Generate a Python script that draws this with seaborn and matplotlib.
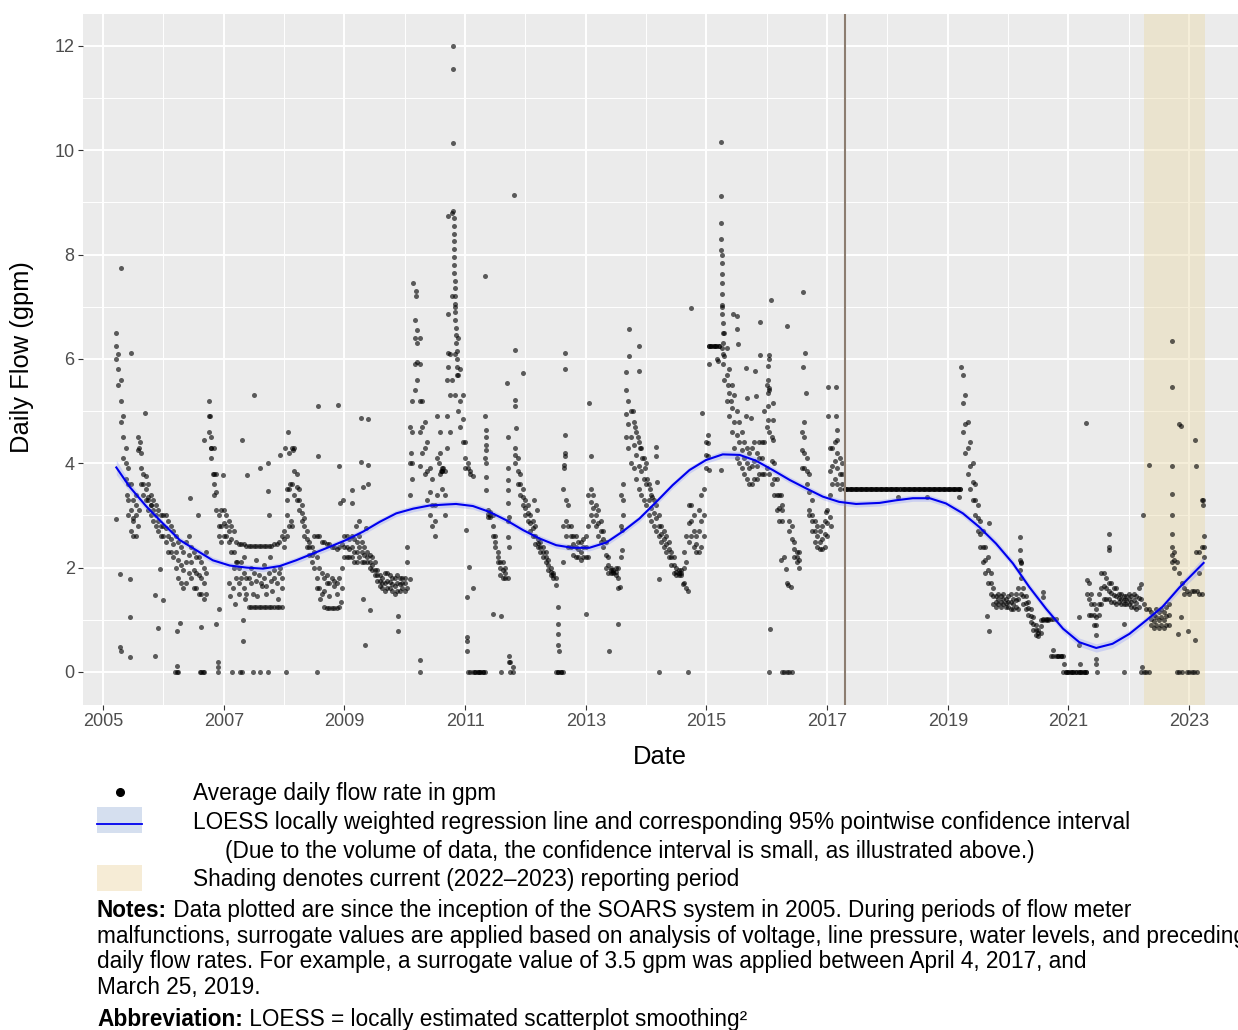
import numpy as np
import pandas as pd
import matplotlib
matplotlib.use("Agg")
import matplotlib.pyplot as plt
import seaborn as sns
from matplotlib.patches import Rectangle
from matplotlib.lines import Line2D

plt.rcParams['font.family'] = ['Liberation Sans', 'DejaVu Sans']

nan = np.nan

# daily flow, two readings a month (1st and 15th):
# low edge, middle and high edge of the point cloud, in gpm
lo_2005 = [nan, nan, nan, nan, nan, 6.0, 5.5, 4.8, 4.1, 3.7, 3.3, 2.7, 2.6, 2.6, 2.8, 3.6, 3.4, 3.3, 3.1, 3.0, 2.9, 2.8, 2.7, 2.6]
mid_2005 = [nan, nan, nan, nan, nan, 6.25, 5.8, 5.2, 4.5, 4.0, 3.6, 3.1, 2.95, 3.0, 4.25, 3.9, 3.6, 3.5, 3.35, 3.2, 3.1, 3.0, 2.9, 2.8]
hi_2005 = [nan, nan, nan, nan, nan, 6.5, 6.1, 5.6, 4.9, 4.3, 3.9, 3.6, 3.3, 3.4, 4.5, 4.2, 3.8, 3.75, 3.6, 3.4, 3.3, 3.2, 3.1, 3.0]

lo_2006 = [2.6, 2.5, 2.3, 2.3, 2.2, 2.0, 1.8, 1.7, 1.6, 1.7, 1.9, 1.8, 1.6, 1.6, 1.5, 1.5, 1.4, 1.5, 4.6, 4.1, 3.4, 3.1, 2.6, 2.5]
mid_2006 = [2.8, 2.75, 2.6, 2.55, 2.45, 2.3, 2.15, 2.05, 1.95, 2.1, 2.25, 2.1, 1.95, 1.9, 1.85, 1.8, 1.7, 1.9, 4.9, 4.3, 3.8, 3.45, 2.8, 2.8]
hi_2006 = [3.0, 3.0, 2.9, 2.8, 2.7, 2.6, 2.5, 2.4, 2.3, 2.5, 2.6, 2.4, 2.3, 2.2, 2.2, 2.1, 2.0, 2.3, 5.2, 4.5, 4.3, 3.8, 3.0, 3.1]

lo_2007 = [2.6, 2.6, 2.5, 2.3, 2.3, 1.8, 1.7, 1.8, 1.6, 1.5, 1.24, 1.24, 1.24, 1.24, 1.24, 1.24, 1.24, 1.24, 1.24, 1.24, 1.24, 1.24, 1.24, 1.24]
mid_2007 = [2.85, 2.8, 2.7, 2.55, 2.0, 2.1, 2.0, 2.1, 1.9, 1.8, 1.8, 1.7, 1.9, 1.75, 1.85, 1.7, 1.8, 1.65, 1.9, 1.75, 1.8, 1.7, 1.9, 1.8]
hi_2007 = [3.1, 3.0, 2.9, 2.8, 2.7, 2.5, 2.45, 2.45, 2.45, 2.42, 2.42, 2.42, 2.42, 2.42, 2.42, 2.42, 2.42, 2.42, 2.42, 2.42, 2.45, 2.45, 2.5, 2.6]

lo_2008 = [2.4, 2.6, 2.8, 2.8, 3.4, 3.3, 3.1, 2.9, 2.6, 2.4, 2.25, 2.1, 2.0, 1.8, 1.6, 1.5, 1.24, 1.22, 1.22, 1.22, 1.22, 1.22, 1.25, 1.6]
mid_2008 = [2.55, 3.0, 3.5, 3.6, 3.85, 3.55, 3.3, 3.05, 2.8, 2.55, 2.4, 2.25, 2.3, 2.2, 2.0, 1.9, 1.8, 1.85, 1.7, 1.8, 1.75, 1.7, 1.8, 2.0]
hi_2008 = [2.7, 3.5, 4.2, 4.3, 4.3, 3.8, 3.5, 3.2, 2.95, 2.7, 2.5, 2.4, 2.6, 2.6, 2.6, 2.5, 2.5, 2.45, 2.45, 2.4, 2.4, 2.35, 2.4, 2.45]

lo_2009 = [2.2, 2.2, 2.2, 2.2, 2.1, 2.1, 2.2, 2.1, 2.1, 2.1, 2.0, 1.95, 1.85, 1.75, 1.65, 1.6, 1.55, 1.6, 1.6, 1.55, 1.5, 1.55, 1.55, 1.6]
mid_2009 = [2.4, 2.4, 2.35, 2.4, 2.3, 2.3, 2.4, 2.3, 2.25, 2.2, 2.1, 2.05, 1.95, 1.85, 1.75, 1.7, 1.7, 1.75, 1.72, 1.68, 1.65, 1.7, 1.68, 1.7]
hi_2009 = [2.6, 2.6, 2.55, 2.6, 2.55, 2.5, 2.6, 2.5, 2.4, 2.3, 2.25, 2.2, 2.1, 1.95, 1.85, 1.8, 1.9, 1.9, 1.85, 1.8, 1.8, 1.85, 1.8, 1.8]

lo_2010 = [1.55, 1.6, 3.4, 4.0, 5.4, 5.6, 4.6, 4.2, 3.8, 3.3, 3.0, 2.8, 2.6, 3.4, 3.8, 3.5, 3.0, 4.3, 4.6, 5.6, 5.3, 5.0, 4.7, 4.4]
mid_2010 = [1.7, 2.1, 4.0, 4.6, 5.9, 5.95, 5.2, 4.7, 4.3, 3.85, 3.45, 3.2, 2.9, 4.1, 4.2, 3.85, 3.4, 4.9, 5.3, 7.2, 6.1, 5.7, 5.2, 4.85]
hi_2010 = [1.8, 2.4, 4.7, 5.2, 6.4, 6.3, 5.9, 5.2, 4.8, 4.4, 3.9, 3.7, 3.2, 4.9, 4.6, 3.9, 3.85, 5.6, 6.1, 8.8, 7.0, 6.4, 5.8, 5.3]

lo_2011 = [3.9, 0, 0, 0, 0, 0, 0, 0, 0, 2.97, 2.97, 2.6, 2.4, 2.1, 1.85, 1.8, 1.8, 1.8, 0, 0, 4.0, 3.6, 3.4, 3.2]
mid_2011 = [4.1, 3.9, 3.8, nan, nan, nan, nan, nan, 4.1, 3.03, 3.0, 2.8, 2.5, 2.2, 2.0, 1.95, 1.9, 2.9, nan, nan, 4.15, 3.85, 3.6, 3.35]
hi_2011 = [4.4, 4.0, 3.85, 3.75, 0, 0, 0, 0, 4.9, 3.1, 3.07, 3.0, 2.6, 2.3, 2.1, 2.1, 2.0, 3.9, 0.2, 0.1, 4.3, 4.1, 3.8, 3.5]

lo_2012 = [3.0, 2.9, 2.7, 2.6, 2.45, 2.4, 2.3, 2.2, 2.1, 1.95, 1.85, 1.8, 0, 0, 0, 2.1, 2.6, 2.4, 2.4, 2.25, 2.2, 2.2, 2.15, 2.2]
mid_2012 = [3.15, 3.05, 2.85, 2.75, 2.6, 2.48, 2.4, 2.3, 2.2, 2.05, 1.92, 1.85, nan, nan, nan, 2.8, 2.9, 2.8, 2.6, 2.45, 2.4, 2.35, 2.3, 2.4]
hi_2012 = [3.3, 3.2, 3.0, 2.9, 2.8, 2.55, 2.5, 2.4, 2.3, 2.15, 2.0, 1.9, 1.8, 0, 0, 3.5, 3.3, 3.2, 2.8, 2.6, 2.6, 2.5, 2.5, 2.55]

lo_2013 = [2.2, 2.2, 3.0, 2.9, 2.8, 2.6, 2.5, 2.4, 2.0, 1.9, 1.9, 1.9, 1.85, 1.6, 2.2, 3.0, 4.5, 4.3, 4.0, 3.9, 3.7, 3.5, 3.4, 3.3]
mid_2013 = [2.4, 2.8, 3.25, 3.15, 3.0, 2.85, 2.7, 2.55, 2.25, 2.05, 1.95, 1.92, 1.92, 1.8, 2.8, 3.3, 4.95, 4.75, 4.5, 4.35, 4.15, 3.95, 3.85, 3.7]
hi_2013 = [2.6, 3.4, 3.5, 3.4, 3.2, 3.1, 2.9, 2.7, 2.5, 2.2, 2.0, 1.95, 2.0, 2.0, 3.4, 3.6, 5.4, 5.2, 5.0, 4.8, 4.6, 4.4, 4.3, 4.1]

lo_2014 = [3.2, 3.0, 2.9, 2.8, 2.7, 2.6, 2.5, 2.4, 2.3, 2.2, 2.05, 1.9, 1.85, 1.85, 1.85, 1.7, 1.6, 2.5, 2.6, 2.4, 2.3, 2.3, 2.4, 2.6]
mid_2014 = [3.6, 3.3, 3.15, 3.05, 2.95, 2.8, 2.65, 2.55, 2.45, 2.35, 2.2, 2.05, 1.92, 1.9, 1.9, 2.0, 2.1, 2.85, 2.9, 2.7, 2.45, 2.7, 2.9, 3.0]
hi_2014 = [4.0, 3.6, 3.4, 3.3, 3.2, 3.0, 2.8, 2.7, 2.6, 2.5, 2.3, 2.2, 2.0, 1.95, 1.95, 2.3, 2.6, 3.2, 3.2, 3.0, 2.6, 3.1, 3.4, 3.5]

lo_2015 = [3.9, 6.25, 6.25, 6.25, 6.25, 6.25, 6.2, 5.6, 5.2, 4.9, 4.6, 4.3, 4.1, 4.0, 3.9, 3.8, 3.7, 3.6, 3.6, 3.7, 3.7, 3.8, 3.8, 3.8]
mid_2015 = [4.15, nan, nan, nan, nan, nan, 7.0, 6.05, 5.7, 5.35, 5.05, 4.8, 4.55, 4.4, 4.25, 4.1, 4.0, 3.9, 3.95, 4.05, 3.95, 4.1, 4.1, 4.4]
hi_2015 = [4.4, 6.25, 6.25, 6.25, 6.25, 6.25, 8.0, 6.5, 6.2, 5.8, 5.5, 5.3, 5.0, 4.8, 4.6, 4.4, 4.3, 4.2, 4.3, 4.4, 4.2, 4.4, 4.4, 5.0]

lo_2016 = [3.9, 3.8, 3.6, 3.4, 3.1, 2.9, 0, 0, 0, 0, 0, 2.2, 2.1, 2.0, 3.9, 3.9, 3.6, 3.1, 2.7, 2.5, 2.4, 2.35, 2.35, 2.4]
mid_2016 = [4.7, 4.6, 4.05, 3.7, 3.4, 3.15, 2.9, nan, nan, 2.7, 2.55, 2.35, 2.2, 2.15, 4.25, 4.2, 3.85, 3.45, 3.0, 2.7, 2.6, 2.5, 2.55, 2.65]
hi_2016 = [5.5, 5.4, 4.5, 4.0, 3.7, 3.4, 3.1, 2.2, 1.7, 2.9, 2.8, 2.5, 2.3, 2.3, 4.6, 4.5, 4.1, 3.8, 3.3, 2.9, 2.8, 2.7, 2.8, 2.9]

# surrogate value of 3.5 gpm from April 2017 to March 2019
lo_2017 = [2.6, 3.4, 3.6, 3.7, 3.6, 3.5, 3.6, 3.5, 3.5, 3.5, 3.5, 3.5, 3.5, 3.5, 3.5, 3.5, 3.5, 3.5, 3.5, 3.5, 3.5, 3.5, 3.5, 3.5]
mid_2017 = [2.85, 3.85, 3.95, 4.05, 3.9, 3.8, 3.8]
hi_2017 = [3.1, 4.3, 4.3, 4.4, 4.2, 4.1, 4.0, 3.5, 3.5, 3.5, 3.5, 3.5, 3.5, 3.5, 3.5, 3.5, 3.5, 3.5, 3.5, 3.5, 3.5, 3.5, 3.5, 3.5]

lo_2018 = [3.5, 3.5, 3.5, 3.5, 3.5, 3.5, 3.5, 3.5, 3.5, 3.5, 3.5, 3.5, 3.5, 3.5, 3.5, 3.5, 3.5, 3.5, 3.5, 3.5, 3.5, 3.5, 3.5, 3.5]
mid_2018 = []
hi_2018 = [3.5, 3.5, 3.5, 3.5, 3.5, 3.5, 3.5, 3.5, 3.5, 3.5, 3.5, 3.5, 3.5, 3.5, 3.5, 3.5, 3.5, 3.5, 3.5, 3.5, 3.5, 3.5, 3.5, 3.5]

lo_2019 = [3.5, 3.5, 3.5, 3.5, 3.5, 3.5, 4.6, 4.2, 3.8, 3.5, 3.3, 3.0, 2.7, 2.4, 2.1, 1.9, 1.7, 1.5, 1.3, 1.25, 1.3, 1.25, 1.3, 1.25]
mid_2019 = [nan, nan, nan, nan, nan, nan, 5.15, 4.75, 4.3, 3.95, 3.65, 3.3, 2.95, 2.65, 2.4, 2.15, 1.95, 1.7, 1.45, 1.35, 1.4, 1.35, 1.4, 1.32]
hi_2019 = [3.5, 3.5, 3.5, 3.5, 3.5, 3.5, 5.7, 5.3, 4.8, 4.4, 4.0, 3.6, 3.2, 2.9, 2.7, 2.4, 2.2, 1.9, 1.6, 1.45, 1.5, 1.45, 1.5, 1.4]

lo_2020 = [1.25, 1.2, 1.2, 1.25, 1.2, 1.5, 1.3, 1.2, 1.1, 0.95, 0.8, 0.7, 0.68, 0.75, 1.0, 1.0, 1.0, 0.3, 0.3, 0.3, 0.3, 0.3, 0.0, 0.0]
mid_2020 = [1.35, 1.35, 1.3, 1.38, 1.4, 1.8, 1.45, 1.32, 1.22, 1.07, 0.92, 0.8, 0.74, 0.88]
hi_2020 = [1.45, 1.5, 1.4, 1.5, 1.6, 2.1, 1.6, 1.45, 1.35, 1.2, 1.05, 0.9, 0.8, 1.0, 1.02, 1.02, 1.02, 1.02, 1.02, 1.02, 0.3, 0.3, 0.3, 0.0]

lo_2021 = [0, 0, 0, 0, 0, 0, 0, 0, 1.1, 1.1, 0.9, 0.9, 1.1, 1.3, 1.4, 1.4, 1.4, 1.35, 1.35, 1.3, 1.35, 1.3, 1.3, 1.3]
mid_2021 = [nan, nan, nan, nan, nan, nan, nan, nan, 1.4, 1.3, 1.1, 1.05, 1.3, 1.6, 1.65, 1.6, 1.55, 1.52, 1.48, 1.45, 1.42, 1.4, 1.38, 1.38]
hi_2021 = [0, 0, 0, 0, 0, 0, 0, 0, 1.7, 1.5, 1.3, 1.2, 1.5, 1.9, 1.9, 1.8, 1.7, 1.7, 1.6, 1.6, 1.5, 1.5, 1.45, 1.45]

lo_2022 = [1.3, 1.25, 1.25, 1.2, 1.25, 0, 0, 0, 0, 0.9, 0.85, 0.9, 0.85, 0.9, 0.85, 0.9, 0.9, 2.1, 2.0, 0, 0, 0, 1.5, 0]
mid_2022 = [1.4, 1.35, 1.38, 1.32, 1.42, nan, nan, nan, nan, 1.02, 0.98, 1.05, 1.0, 1.05, 1.0, 1.08, 1.1, 2.25, 2.15]
hi_2022 = [1.5, 1.45, 1.5, 1.45, 1.6, 1.4, 1.3, 1.2, 1.2, 1.15, 1.1, 1.2, 1.15, 1.2, 1.15, 1.25, 1.3, 2.4, 2.3, 2.1, 1.9, 1.7, 1.6, 1.55]

lo_2023 = [0, 0, 0, 0, 1.5, 1.5, 2.2]
mid_2023 = [nan, nan, nan, nan, 1.9, 2.4, 2.4]
hi_2023 = [1.5, 1.55, 1.55, 1.55, 2.3, 3.3, 2.6]

years = list(range(2005, 2024))
lows = [lo_2005, lo_2006, lo_2007, lo_2008, lo_2009, lo_2010, lo_2011, lo_2012, lo_2013, lo_2014,
        lo_2015, lo_2016, lo_2017, lo_2018, lo_2019, lo_2020, lo_2021, lo_2022, lo_2023]
mids = [mid_2005, mid_2006, mid_2007, mid_2008, mid_2009, mid_2010, mid_2011, mid_2012, mid_2013, mid_2014,
        mid_2015, mid_2016, mid_2017, mid_2018, mid_2019, mid_2020, mid_2021, mid_2022, mid_2023]
highs = [hi_2005, hi_2006, hi_2007, hi_2008, hi_2009, hi_2010, hi_2011, hi_2012, hi_2013, hi_2014,
         hi_2015, hi_2016, hi_2017, hi_2018, hi_2019, hi_2020, hi_2021, hi_2022, hi_2023]

# single scattered days (decimal year, gpm)
scatter_2005_2009 = [
    (2005.30, 7.74), (2005.47, 6.12), (2005.22, 2.94), (2005.28, 1.88), (2005.28, 0.47), (2005.29, 0.41),
    (2005.45, 1.79), (2005.45, 1.05), (2005.45, 0.28), (2005.69, 4.96), (2005.94, 1.98), (2005.86, 1.47),
    (2005.91, 0.84), (2005.86, 0.31), (2005.99, 1.38), (2005.40, 3.40), (2005.42, 3.00), (2005.50, 2.90),
    (2005.55, 3.20), (2005.60, 4.30), (2005.62, 4.40), (2005.60, 3.10), (2005.75, 3.30), (2005.80, 3.20),
    (2006.20, 0.00), (2006.22, 0.00), (2006.25, 0.00), (2006.22, 0.12), (2006.22, 0.79), (2006.27, 0.94),
    (2006.44, 3.33), (2006.57, 3.00), (2006.63, 0.86), (2006.60, 0.00), (2006.62, 0.00), (2006.65, 0.00),
    (2006.68, 0.00), (2006.67, 4.45), (2006.88, 0.92), (2006.90, 0.19), (2006.90, 0.09), (2006.90, 0.00),
    (2006.92, 1.21), (2006.99, 3.78), (2006.77, 4.90), (2006.79, 4.30), (2006.82, 3.80), (2006.84, 3.60),
    (2007.13, 0.00), (2007.27, 0.00), (2007.30, 0.00), (2007.49, 0.00), (2007.60, 0.00), (2007.73, 0.00),
    (2007.31, 4.44), (2007.32, 0.99), (2007.32, 0.60), (2007.38, 3.78), (2007.51, 5.31), (2007.60, 3.90),
    (2007.73, 4.00), (2007.73, 3.46), (2007.75, 3.00), (2007.93, 4.16),
    (2007.08, 1.70), (2007.10, 1.45), (2007.15, 1.60), (2007.18, 1.30), (2007.22, 2.10), (2007.25, 1.50),
    (2007.33, 2.20), (2007.36, 1.40), (2007.45, 2.00), (2007.48, 1.50), (2007.53, 2.15), (2007.56, 1.45),
    (2007.63, 1.65), (2007.66, 2.05), (2007.70, 1.50), (2007.76, 2.20), (2007.80, 1.55), (2007.83, 1.95),
    (2007.90, 1.40), (2007.93, 2.00), (2007.96, 1.60),
    (2008.04, 0.00), (2008.54, 0.00), (2008.07, 4.60), (2008.02, 4.29), (2008.15, 4.26), (2008.05, 3.30),
    (2008.10, 3.60), (2008.12, 2.90), (2008.56, 5.10), (2008.56, 4.13), (2008.90, 5.12), (2008.91, 3.94),
    (2008.92, 3.23), (2008.98, 3.30), (2008.55, 1.60), (2008.60, 1.40), (2008.66, 1.55), (2008.72, 1.70),
    (2008.75, 1.45), (2008.82, 1.65), (2008.88, 1.50), (2008.95, 1.35),
    (2009.12, 3.49), (2009.12, 3.23), (2009.27, 4.87), (2009.39, 4.85), (2009.28, 4.03), (2009.39, 3.97),
    (2009.31, 3.55), (2009.39, 3.60), (2009.34, 0.51), (2009.31, 1.40), (2009.42, 1.19), (2009.89, 1.08),
    (2009.89, 0.79), (2009.20, 2.80), (2009.25, 2.90), (2009.35, 2.75),
]

scatter_2010_2014 = [
    (2010.08, 1.79), (2010.25, 0.22), (2010.25, 0.00), (2010.25, 3.94), (2010.14, 7.46), (2010.18, 7.30),
    (2010.18, 7.20), (2010.17, 6.75), (2010.21, 6.55), (2010.25, 6.40), (2010.10, 4.20), (2010.12, 3.70),
    (2010.72, 8.74), (2010.72, 6.87), (2010.72, 6.12), (2010.72, 5.85), (2010.57, 4.00), (2010.60, 3.85),
    (2010.62, 3.85), (2010.64, 3.90),
    (2011.04, 0.67), (2011.04, 0.60), (2011.04, 0.41), (2011.04, 1.44), (2011.07, 2.01), (2011.13, 1.60),
    (2011.02, 2.72), (2011.33, 7.59), (2011.34, 4.64), (2011.34, 4.51), (2011.34, 4.35), (2011.34, 4.26),
    (2011.34, 4.00), (2011.35, 3.74), (2011.35, 3.49), (2011.46, 1.12), (2011.60, 1.08), (2011.60, 0.00),
    (2011.73, 0.31), (2011.73, 0.19), (2011.69, 5.54), (2011.71, 4.51), (2011.71, 3.68), (2011.71, 3.49),
    (2011.71, 3.23), (2011.72, 2.97), (2011.71, 2.59), (2011.72, 2.40), (2011.81, 9.14), (2011.82, 6.17),
    (2011.82, 5.22), (2011.82, 5.09), (2011.84, 4.67), (2011.96, 5.73),
    (2012.19, 3.10), (2012.15, 3.30), (2012.50, 1.66), (2012.63, 0.00), (2012.54, 1.24), (2012.54, 0.92),
    (2012.54, 0.73), (2012.54, 0.51), (2012.55, 0.41), (2012.65, 6.12), (2012.65, 5.81), (2012.65, 4.54),
    (2012.65, 4.19), (2012.66, 4.13), (2012.64, 3.97), (2012.64, 3.90),
    (2013.00, 1.12), (2013.06, 5.15), (2013.08, 4.13), (2013.39, 0.41), (2013.53, 0.92), (2013.56, 1.63),
    (2013.72, 6.58), (2013.72, 6.06), (2013.67, 5.74), (2013.89, 6.25), (2013.89, 5.76), (2013.60, 2.33),
    (2013.60, 2.72), (2013.78, 5.00), (2013.82, 4.70), (2013.86, 4.50), (2013.90, 4.30), (2013.94, 4.10),
    (2013.98, 3.90), (2014.02, 3.70), (2014.06, 3.50), (2014.10, 3.35),
    (2014.17, 4.32), (2014.17, 4.13), (2014.18, 3.65), (2014.22, 1.79), (2014.22, 0.00), (2014.69, 1.56),
    (2014.69, 0.00), (2014.61, 1.69), (2014.75, 6.97), (2014.93, 4.96),
]

scatter_2015_2023 = [
    (2015.02, 4.55), (2015.02, 4.38), (2015.03, 4.13), (2015.04, 3.87), (2015.05, 5.90), (2015.19, 5.96),
    (2015.18, 6.00), (2015.24, 3.87), (2015.44, 6.87), (2015.51, 6.83), (2015.51, 6.58), (2015.52, 6.28),
    (2015.88, 6.70), (2015.88, 6.07), (2015.81, 5.77), (2015.66, 5.83), (2015.68, 5.25), (2015.74, 4.87),
    (2015.66, 4.90), (2015.83, 5.28), (2015.35, 5.50), (2015.40, 5.20),
    (2016.07, 7.13), (2016.03, 6.07), (2016.03, 6.00), (2016.02, 5.86), (2016.02, 5.60), (2016.02, 5.35),
    (2016.02, 5.09), (2016.02, 4.83), (2016.03, 5.44), (2016.10, 5.15), (2016.10, 4.83), (2016.10, 4.45),
    (2016.34, 6.63), (2016.60, 7.29), (2016.64, 6.12), (2016.60, 5.85), (2016.65, 5.35), (2016.62, 4.80),
    (2016.04, 0.00), (2016.06, 0.83), (2016.35, 1.66), (2016.40, 1.63), (2016.32, 1.98), (2016.24, 2.14),
    (2016.24, 3.40), (2016.26, 3.20), (2016.98, 3.07), (2016.70, 3.00), (2016.75, 2.90),
    (2017.01, 5.47), (2017.01, 4.90), (2017.15, 5.47), (2017.15, 4.90), (2017.16, 4.64), (2017.16, 4.45),
    (2017.05, 2.97), (2017.07, 2.80),
    (2018.18, 3.36), (2018.65, 3.36), (2019.18, 3.36), (2019.22, 5.84), (2019.65, 1.08), (2019.69, 0.79),
    (2019.69, 2.85),
    (2020.20, 2.59), (2020.20, 2.33), (2020.20, 2.14), (2020.22, 2.08), (2020.20, 1.95), (2020.57, 1.53),
    (2020.57, 1.44), (2020.74, 0.42), (2020.93, 0.15),
    (2021.18, 1.05), (2021.18, 0.51), (2021.19, 0.15), (2021.29, 4.77), (2021.30, 1.76), (2021.30, 1.50),
    (2021.46, 0.25), (2021.46, 0.15), (2021.47, 0.00), (2021.46, 0.70), (2021.67, 2.65), (2021.67, 2.40),
    (2021.67, 2.33), (2021.92, 0.92), (2021.92, 0.00),
    (2022.20, 1.69), (2022.22, 0.09), (2022.23, 3.00), (2022.33, 3.97), (2022.72, 6.34), (2022.72, 5.47),
    (2022.72, 3.94), (2022.72, 3.42), (2022.72, 3.00), (2022.72, 2.65), (2022.84, 4.75), (2022.87, 4.71),
    (2022.82, 0.73), (2022.87, 1.05), (2022.98, 0.79),
    (2023.10, 0.62), (2023.09, 4.45), (2023.12, 3.94), (2023.12, 2.30), (2023.23, 3.30), (2023.23, 3.20),
]

# the two tall spikes
spike_2010_dates = [2010.80, 2010.80, 2010.80, 2010.80, 2010.81, 2010.81, 2010.81, 2010.81, 2010.82, 2010.82,
                    2010.82, 2010.82, 2010.83, 2010.83, 2010.83, 2010.84, 2010.84, 2010.84, 2010.85, 2010.85,
                    2010.85, 2010.86, 2010.86, 2010.87, 2010.87]
spike_2010_vals = [12.0, 11.56, 10.13, 8.83, 8.7, 8.55, 8.4, 8.25, 8.1, 7.95, 7.8, 7.65, 7.5, 7.35, 7.2,
                   7.05, 6.9, 6.75, 6.6, 6.45, 6.3, 6.15, 6.0, 5.85, 5.7]
spike_2015_dates = [2015.24, 2015.24, 2015.24, 2015.24, 2015.24, 2015.25, 2015.25, 2015.25, 2015.26, 2015.26,
                    2015.26, 2015.27, 2015.27, 2015.27, 2015.28, 2015.28]
spike_2015_vals = [10.16, 9.12, 8.6, 8.3, 8.08, 7.83, 7.62, 7.45, 7.25, 7.03, 6.87, 6.68, 6.49, 6.3, 6.1, 5.9]

# LOESS curve and half width of its confidence band
loess_x = [2005.22, 2005.44, 2005.72, 2005.99, 2006.27, 2006.55, 2006.82, 2007.10, 2007.38, 2007.65,
           2007.93, 2008.20, 2008.48, 2008.76, 2009.03, 2009.31, 2009.59, 2009.86, 2010.14, 2010.41,
           2010.69, 2010.85, 2011.13, 2011.40, 2011.68, 2011.96, 2012.23, 2012.51, 2012.78, 2013.06,
           2013.34, 2013.61, 2013.89, 2014.17, 2014.44, 2014.72, 2014.99, 2015.27, 2015.55, 2015.82,
           2016.10, 2016.38, 2016.65, 2016.93, 2017.20, 2017.48, 2017.87, 2018.14, 2018.42, 2018.70,
           2018.97, 2019.25, 2019.52, 2019.80, 2020.08, 2020.35, 2020.63, 2020.91, 2021.18, 2021.46,
           2021.73, 2022.01, 2022.29, 2022.56, 2022.84, 2023.12, 2023.24]
loess_y = [3.92, 3.55, 3.17, 2.85, 2.53, 2.33, 2.14, 2.04, 2.00, 1.98,
           2.03, 2.14, 2.27, 2.40, 2.53, 2.69, 2.88, 3.04, 3.13, 3.19,
           3.21, 3.22, 3.18, 3.07, 2.91, 2.72, 2.56, 2.43, 2.38, 2.38,
           2.48, 2.69, 2.94, 3.26, 3.58, 3.87, 4.06, 4.17, 4.16, 4.05,
           3.87, 3.68, 3.52, 3.36, 3.26, 3.22, 3.24, 3.29, 3.33, 3.33,
           3.23, 3.04, 2.78, 2.46, 2.08, 1.63, 1.21, 0.83, 0.57, 0.46,
           0.54, 0.73, 0.99, 1.25, 1.62, 1.95, 2.09]
loess_ci = [0.14, 0.09, 0.07, 0.06, 0.06, 0.06, 0.06, 0.06, 0.06, 0.06,
            0.06, 0.06, 0.06, 0.06, 0.06, 0.06, 0.06, 0.06, 0.06, 0.06,
            0.06, 0.06, 0.06, 0.06, 0.06, 0.06, 0.06, 0.06, 0.06, 0.06,
            0.06, 0.06, 0.06, 0.06, 0.06, 0.06, 0.06, 0.07, 0.07, 0.07,
            0.06, 0.06, 0.06, 0.06, 0.06, 0.06, 0.06, 0.06, 0.06, 0.06,
            0.06, 0.06, 0.07, 0.07, 0.07, 0.07, 0.07, 0.07, 0.08, 0.08,
            0.08, 0.07, 0.07, 0.07, 0.08, 0.10, 0.12]

surrogate_start = 2017.30
period_start, period_end = 2022.25, 2023.26

# assemble one long table of points
rows = []
for year, lo, mid, hi in zip(years, lows, mids, highs):
    for k in range(len(lo)):
        t = year + k / 24
        rows.append((t, lo[k]))
        rows.append((t, hi[k]))
        if k < len(mid):
            rows.append((t, mid[k]))
for pts in (scatter_2005_2009, scatter_2010_2014, scatter_2015_2023):
    rows.extend(pts)
rows.extend(zip(spike_2010_dates, spike_2010_vals))
rows.extend(zip(spike_2015_dates, spike_2015_vals))
df = pd.DataFrame(rows, columns=['date', 'flow']).dropna()

W, H = 1238, 1030
fig = plt.figure(figsize=(W / 100, H / 100), dpi=100)
fig.patch.set_facecolor('white')
ax = fig.add_axes([83 / W, 1 - 705 / H, (W - 83) / W, (705 - 14) / H])
ax.set_facecolor('#EBEBEB')
for s in ax.spines.values():
    s.set_visible(False)
ax.set_axisbelow(True)

ax.axvspan(period_start, period_end, color='#E9D8A6', alpha=0.42, lw=0, zorder=1)
sns.scatterplot(data=df, x='date', y='flow', color='black', alpha=0.62, s=13,
                linewidth=0, ax=ax, zorder=3, legend=False)
ax.axvline(surrogate_start, color='#8C7D70', lw=1.5, zorder=4)

band_lo = np.array(loess_y) - np.array(loess_ci)
band_hi = np.array(loess_y) + np.array(loess_ci)
ax.fill_between(loess_x, band_lo, band_hi, color='#7F8CFF', alpha=0.28, lw=0, zorder=5)
sns.lineplot(x=loess_x, y=loess_y, color='#0000EE', lw=1.5, ax=ax, zorder=6, errorbar=None)

ax.set_xlim(2004.668, 2023.81)
ax.set_ylim(-0.633, 12.61)
ax.set_xticks(range(2005, 2024, 2))
ax.set_xticklabels([str(y) for y in range(2005, 2024, 2)])
ax.set_xticks(range(2006, 2024, 2), minor=True)
ax.set_yticks(range(0, 13, 2))
ax.set_yticks(range(1, 13, 2), minor=True)
ax.grid(which='major', color='white', lw=1.4)
ax.grid(which='minor', color='white', lw=0.7)
ax.tick_params(which='major', length=3.5, width=0.8, color='#333333',
               labelcolor='#4D4D4D', labelsize=13, pad=2.5)
ax.tick_params(which='minor', length=0)
ax.set_xlabel('')
ax.set_ylabel('')


def fx(px):
    return px / W


def fy(py):
    return 1 - py / H


fig.text(fx(660), fy(757), 'Date', ha='center', va='center', fontsize=18.4)
fig.text(fx(22), fy(357), 'Daily Flow (gpm)', ha='center', va='center', rotation=90, fontsize=18.4)

# key below the chart
fs = 16.3
fig.add_artist(Line2D([fx(120)], [fy(792)], marker='o', ms=5.5, color='black',
                      linestyle='none', transform=fig.transFigure))
fig.add_artist(Rectangle((fx(97), fy(833)), 45 / W, 26 / H, color='#D5DFEF',
                         lw=0, transform=fig.transFigure))
fig.add_artist(Line2D([fx(97), fx(142)], [fy(824), fy(824)], color='#0000EE', lw=1.3,
                      transform=fig.transFigure))
fig.add_artist(Rectangle((fx(97), fy(891)), 45 / W, 26 / H, color='#F6ECD6',
                         lw=0, transform=fig.transFigure))

fig.text(fx(193), fy(800), 'Average daily flow rate in gpm', fontsize=fs, va='baseline')
fig.text(fx(193), fy(829), 'LOESS locally weighted regression line and corresponding 95% pointwise confidence interval',
         fontsize=fs, va='baseline')
fig.text(fx(225), fy(858), '(Due to the volume of data, the confidence interval is small, as illustrated above.)',
         fontsize=fs, va='baseline')
fig.text(fx(193), fy(886), 'Shading denotes current (2022\u20132023) reporting period', fontsize=fs, va='baseline')

renderer = fig.canvas.get_renderer()


def bold_lead(px, py, bold, rest):
    t = fig.text(fx(px), fy(py), bold, fontsize=fs, fontweight='bold', va='baseline')
    bb = t.get_window_extent(renderer=renderer)
    fig.text(bb.x1 / W, fy(py), rest, fontsize=fs, va='baseline')


bold_lead(97, 917, 'Notes:', ' Data plotted are since the inception of the SOARS system in 2005. During periods of flow meter')
fig.text(fx(97), fy(943), 'malfunctions, surrogate values are applied based on analysis of voltage, line pressure, water levels, and preceding',
         fontsize=fs, va='baseline')
fig.text(fx(97), fy(968), 'daily flow rates. For example, a surrogate value of 3.5 gpm was applied between April 4, 2017, and',
         fontsize=fs, va='baseline')
fig.text(fx(97), fy(994), 'March 25, 2019.', fontsize=fs, va='baseline')
bold_lead(97, 1026, 'Abbreviation:', ' LOESS = locally estimated scatterplot smoothing\u00b2')

fig.savefig('out.png', dpi=100)
